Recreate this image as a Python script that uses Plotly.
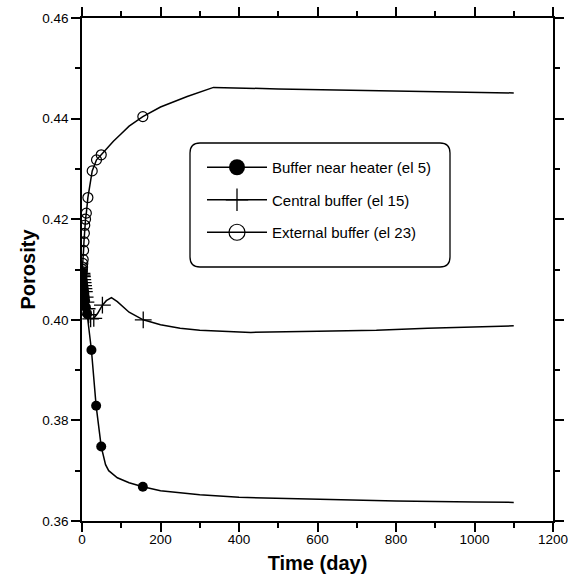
import plotly.graph_objects as go

# ---------------- data ----------------
# Buffer near heater (el 5): marked points and extra curve points
heater_mark_t = [0, 0.5, 1, 1.5, 2, 3, 4, 5, 6, 7, 8, 10, 13, 24, 36, 49, 155]
heater_mark_v = [0.4095, 0.4090, 0.4085, 0.4080, 0.4076, 0.4070, 0.4064, 0.4058,
                 0.4052, 0.4045, 0.4038, 0.4025, 0.4012, 0.3940, 0.3829, 0.3748, 0.3668]
heater_line_t = [60, 68, 90, 120, 200, 300, 400, 600, 800, 1000, 1100]
heater_line_v = [0.3712, 0.3700, 0.3686, 0.3676, 0.3660, 0.3652, 0.3647, 0.3643,
                 0.3640, 0.3638, 0.3637]

# Central buffer (el 15)
central_mark_t = [0, 0.5, 1, 2, 3, 4, 5, 6, 8, 10, 13, 17, 22, 30, 52, 156]
central_mark_v = [0.4092, 0.4089, 0.4086, 0.4080, 0.4074, 0.4068, 0.4062, 0.4056,
                  0.4045, 0.4035, 0.4022, 0.4010, 0.4002, 0.4003, 0.4029, 0.4000]
central_line_t = [40, 62, 75, 90, 120, 200, 250, 300, 430, 600, 750, 880, 1000, 1100]
central_line_v = [0.4013, 0.4038, 0.4044, 0.4036, 0.4015, 0.3990, 0.3983, 0.3979,
                  0.3975, 0.3977, 0.3979, 0.3983, 0.3986, 0.3988]

# External buffer (el 23)
external_mark_t = [0, 0.5, 1, 1.5, 2, 3, 4, 5, 6, 7, 9, 11, 15, 26, 37, 49, 155]
external_mark_v = [0.4092, 0.4096, 0.4100, 0.4105, 0.4112, 0.4120, 0.4138, 0.4155,
                   0.4172, 0.4188, 0.4200, 0.4212, 0.4243, 0.4296, 0.4318, 0.4328, 0.4404]
external_line_t = [80, 100, 120, 200, 268, 335, 500, 700, 940, 1100]
external_line_v = [0.4355, 0.4370, 0.4385, 0.4423, 0.4444, 0.4462, 0.4459, 0.4456,
                   0.4452, 0.4451]

series_names = ["Buffer near heater (el 5)", "Central buffer (el 15)", "External buffer (el 23)"]

x_ticks = [0, 200, 400, 600, 800, 1000, 1200]
y_ticks = [0.36, 0.38, 0.40, 0.42, 0.44, 0.46]

FONT = "Liberation Sans, Arial, sans-serif"


def merged(mt, mv, lt, lv):
    pts = sorted(zip(mt + lt, mv + lv))
    return [p[0] for p in pts], [p[1] for p in pts]


styles = [
    dict(symbol="circle", color="black", line=dict(width=0, color="black"), size=10),
    dict(symbol="cross-thin", color="black", line=dict(width=1.3, color="black"), size=12),
    dict(symbol="circle-open", color="black", line=dict(width=1.2, color="black"), size=10),
]
data_sets = [
    (heater_mark_t, heater_mark_v, heater_line_t, heater_line_v),
    (central_mark_t, central_mark_v, central_line_t, central_line_v),
    (external_mark_t, external_mark_v, external_line_t, external_line_v),
]

fig = go.Figure()
for name, st, (mt, mv, lt, lv) in zip(series_names, styles, data_sets):
    ct, cv = merged(mt, mv, lt, lv)
    fig.add_trace(go.Scatter(x=ct, y=cv, mode="lines", line=dict(color="black", width=1.5),
                             showlegend=False, hoverinfo="skip"))
    fig.add_trace(go.Scatter(x=mt, y=mv, mode="markers", marker=st, showlegend=False,
                             name=name))

# legend-only entries
for i, (name, st) in enumerate(zip(series_names, styles)):
    lst = dict(st)
    lst["size"] = 16 if st["symbol"] != "cross-thin" else 18
    fig.add_trace(go.Scatter(x=[None], y=[None], mode="lines+markers", name=name,
                             line=dict(color="black", width=1.3), marker=lst,
                             legendgroup=f"g{i}"))

# rounded legend frame
MT, MB = 18, 58
W, H = 568 - 82 - 15, 579 - MT - MB
x0, x1 = (190 - 82) / W, (450 - 82) / W
y0, y1 = (579 - MB - 267) / H, (579 - MB - 143) / H
rx, ry = 10 / W, 10 / H
path = (f"M {x0+rx},{y1} L {x1-rx},{y1} Q {x1},{y1} {x1},{y1-ry} "
        f"L {x1},{y0+ry} Q {x1},{y0} {x1-rx},{y0} L {x0+rx},{y0} "
        f"Q {x0},{y0} {x0},{y0+ry} L {x0},{y1-ry} Q {x0},{y1} {x0+rx},{y1} Z")
fig.add_shape(type="path", path=path, xref="paper", yref="paper",
              line=dict(color="black", width=1.3), fillcolor="white", layer="below")

axis_common = dict(
    showgrid=False, zeroline=False, showline=True, linecolor="black", linewidth=1.5,
    mirror="ticks", ticks="outside", ticklen=9, tickwidth=1.5, tickcolor="black",
    tickfont=dict(family=FONT, size=13.5, color="black"), automargin=False,
    ticklabeloverflow="allow",
)

fig.update_layout(
    width=568, height=579,
    margin=dict(l=82, r=15, t=MT, b=MB),
    paper_bgcolor="white", plot_bgcolor="white",
    font=dict(family=FONT, color="black"),
    xaxis=dict(range=[0, 1200], tickvals=x_ticks, ticklabelstandoff=-4,
               minor=dict(dtick=100, ticklen=5, tickwidth=1.5, ticks="outside", tickcolor="black"),
               title=dict(text="<b>Time (day)</b>", font=dict(family=FONT, size=20), standoff=10),
               **axis_common),
    yaxis=dict(range=[0.36, 0.46], tickvals=y_ticks, tickformat=".2f",
               minor=dict(dtick=0.01, ticklen=5, tickwidth=1.5, ticks="outside", tickcolor="black"),
               title=dict(text="<b>Porosity</b>", font=dict(family=FONT, size=20), standoff=1),
               **axis_common),
    legend=dict(x=(202 - 82) / W, y=(579 - MB - 151) / H, xanchor="left", yanchor="top",
                bgcolor="rgba(0,0,0,0)", borderwidth=0, itemwidth=60,
                tracegroupgap=10, font=dict(family=FONT, size=15, color="black")),
    showlegend=True,
)

fig.write_html("out.html")
